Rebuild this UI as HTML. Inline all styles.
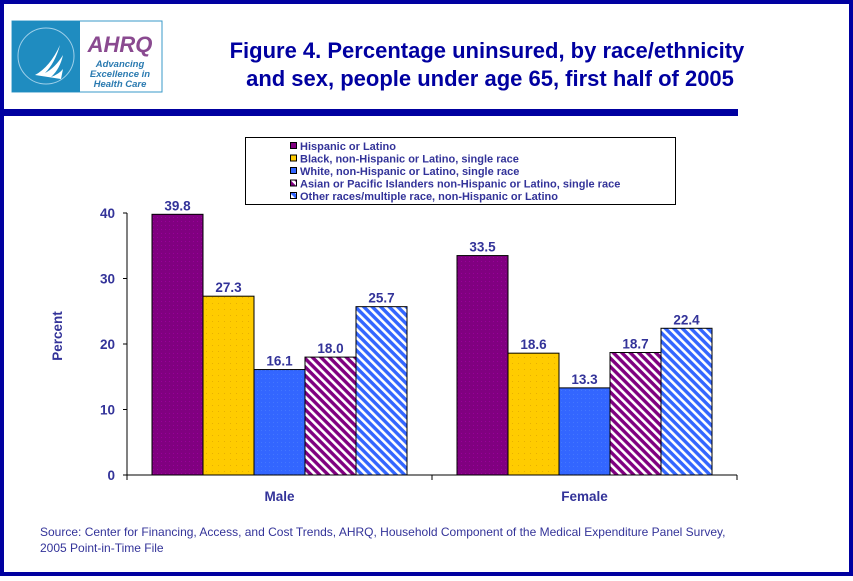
<!DOCTYPE html>
<html><head><meta charset="utf-8">
<style>
html,body{margin:0;padding:0;background:#fff;}
body{width:853px;height:576px;overflow:hidden;font-family:"Liberation Sans",Arial,sans-serif;}
</style></head>
<body>
<svg width="853" height="576" xmlns="http://www.w3.org/2000/svg">
<defs>
  <pattern id="pPurple" width="4" height="4" patternUnits="userSpaceOnUse"><rect width="4" height="4" fill="#800080"/><rect x="1" y="1" width="1" height="1" fill="#990099"/></pattern>
  <pattern id="pYellow" width="6" height="6" patternUnits="userSpaceOnUse"><rect width="6" height="6" fill="#FFCC00"/><rect x="2" y="3" width="1" height="1" fill="#e8b000"/></pattern>
  <pattern id="pBlue" width="4" height="4" patternUnits="userSpaceOnUse"><rect width="4" height="4" fill="#3366FF"/><rect x="1" y="2" width="1" height="1" fill="#4477ff"/></pattern>
  <pattern id="pAsian" width="6" height="6" patternUnits="userSpaceOnUse" patternTransform="rotate(45)"><rect width="6" height="6" fill="#fff"/><rect width="6" height="3.4" fill="#800080"/></pattern>
  <pattern id="pOther" width="6" height="6" patternUnits="userSpaceOnUse" patternTransform="rotate(45)"><rect width="6" height="6" fill="#fff"/><rect width="6" height="3.4" fill="#3366FF"/></pattern>
</defs>
<rect x="0" y="0" width="853" height="576" fill="#fff"/>
<rect x="0" y="0" width="853" height="4" fill="#0000A0"/>
<rect x="0" y="0" width="4" height="576" fill="#0000A0"/>
<rect x="849" y="0" width="4" height="576" fill="#0000A0"/>
<rect x="0" y="572" width="853" height="4" fill="#0000A0"/>
<rect x="0" y="109" width="738" height="7" fill="#0000A0"/>
<g>
  <rect x="12" y="21" width="150" height="71" fill="#fff" stroke="#3a9ac8"/>
  <rect x="12" y="21" width="68" height="71" fill="#1f8cc0"/>
  <path d="M35 75 q15 -8 25 -30 q-5 18 -15 28 q10 -5 18 -18 q-3 14 -12 22 q8 -3 12 -8 l-2 10 z" fill="#fff"/>
  <circle cx="46" cy="56" r="28" fill="none" stroke="#9fd0ea" stroke-width="1"/>
  <text x="120" y="52" font-size="22" font-weight="bold" font-style="italic" fill="#8a4a90" text-anchor="middle">AHRQ</text>
  <text x="120" y="67" font-size="9.5" font-weight="bold" font-style="italic" fill="#2a7ab0" text-anchor="middle">Advancing</text>
  <text x="120" y="77" font-size="9.5" font-weight="bold" font-style="italic" fill="#2a7ab0" text-anchor="middle">Excellence in</text>
  <text x="120" y="87" font-size="9.5" font-weight="bold" font-style="italic" fill="#2a7ab0" text-anchor="middle">Health Care</text>
</g>
<text font-size="22" font-weight="bold" fill="#0000A0" text-anchor="middle">
  <tspan x="490" y="58">Figure 4. Percentage uninsured, by race/ethnicity</tspan>
  <tspan x="490" y="86">and sex, people under age 65, first half of 2005</tspan>
</text>
<g id="plot"></g>
<g id="legend"></g>
<text font-size="12" fill="#333399">
  <tspan x="40" y="536">Source: Center for Financing, Access, and Cost Trends, AHRQ, Household Component of the Medical Expenditure Panel Survey,</tspan>
  <tspan x="40" y="552">2005 Point-in-Time File</tspan>
</text>
</svg>
<script>
const categories = ["Male", "Female"];
const seriesNames = ["Hispanic or Latino","Black, non-Hispanic or Latino, single race","White, non-Hispanic or Latino, single race","Asian or Pacific Islanders non-Hispanic or Latino, single race","Other races/multiple race, non-Hispanic or Latino"];
const hispanic = [39.8, 33.5];
const black = [27.3, 18.6];
const white = [16.1, 13.3];
const asian = [18.0, 18.7];
const other = [25.7, 22.4];
const yTicks = [0, 10, 20, 30, 40];

const series = [hispanic, black, white, asian, other];
const fills = ["url(#pPurple)","url(#pYellow)","url(#pBlue)","url(#pAsian)","url(#pOther)"];
const swatch = ["#800080","#FFCC00","#3366FF","url(#pAsian)","url(#pOther)"];
const NS = "http://www.w3.org/2000/svg";
const X0 = 127, X1 = 737, Y0 = 475, Ytop = 213;
const yScale = v => Y0 - (v / 40) * (Y0 - Ytop);
const groupW = (X1 - X0) / categories.length;
const barW = 51;
const xBar = (g, s) => X0 + g * groupW + (groupW - barW * series.length) / 2 + s * barW;
function mk(tag, attrs, parent) { const e = document.createElementNS(NS, tag); for (const k in attrs) e.setAttribute(k, attrs[k]); parent.appendChild(e); return e; }
const plot = document.getElementById("plot");
const C = "#333399";
let ax = mk("line", {x1: X0, y1: Ytop, x2: X0, y2: Y0, stroke: "#000"}, plot);


yTicks.forEach(t => {
  const y = yScale(t);
  const tk = mk("line", {x1: X0 - 4, y1: y, x2: X0, y2: y, stroke: "#000"}, plot);
  
  
  const lb = mk("text", {x: X0 - 12, y: y + 5, "font-size": 13.5, "font-weight": "bold", fill: C, "text-anchor": "end"}, plot);
  lb.textContent = t;
  
  
});
const yt = mk("text", {x: 0, y: 0, transform: "translate(62,336) rotate(-90)", "font-size": 13.5, "font-weight": "bold", fill: C, "text-anchor": "middle"}, plot);
yt.textContent = "Percent";


categories.forEach((c, g) => {
  series.forEach((arr, s) => {
    const v = arr[g];
    const x = xBar(g, s), y = yScale(v);
    const r = mk("rect", {x: x, y: y, width: barW, height: Y0 - y, fill: fills[s], stroke: "#000", "stroke-width": 1}, plot);
    
    
    const t = mk("text", {x: x + barW / 2, y: y - 4, "font-size": 13.5, "font-weight": "bold", fill: C, "text-anchor": "middle"}, plot);
    t.textContent = v.toFixed(1);
    
    
  });
  const cl = mk("text", {x: X0 + g * groupW + groupW / 2, y: 501, "font-size": 13.5, "font-weight": "bold", fill: C, "text-anchor": "middle"}, plot);
  cl.textContent = c;
  
  
});
let xa = mk("line", {x1: X0, y1: Y0, x2: X1, y2: Y0, stroke: "#000"}, plot);


for (let i = 0; i <= categories.length; i++) {
  const x = X0 + i * groupW;
  const tk = mk("line", {x1: x, y1: Y0, x2: x, y2: Y0 + 5, stroke: "#000"}, plot);
  
  
}
const lg = document.getElementById("legend");


mk("rect", {x: 245.5, y: 137.5, width: 430, height: 67, fill: "#fff", stroke: "#000"}, lg);
seriesNames.forEach((n, i) => {
  const y = 146 + i * 12.5;
  const sw = mk("rect", {x: 290.5, y: y - 3.5, width: 6, height: 6, fill: swatch[i], stroke: "#000"}, lg);
  
  
  const t = mk("text", {x: 300, y: y + 4, "font-size": 11, "font-weight": "bold", fill: C}, lg);
  t.textContent = n;
  
  
});
</script>
</body></html>
